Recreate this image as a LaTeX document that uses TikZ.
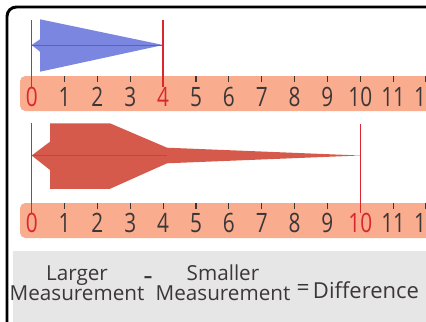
\documentclass[tikz,border=0pt]{standalone}
\usepackage{fontspec}
\setmainfont{Open Sans}

\definecolor{band}{RGB}{250,172,142}
\definecolor{ink}{RGB}{60,55,55}
\definecolor{hilite}{RGB}{218,38,45}
\definecolor{bluearrow}{RGB}{122,134,224}
\definecolor{redarrow}{RGB}{214,90,75}
\definecolor{panel}{RGB}{230,230,230}

\newcommand{\narrow}[1]{\scalebox{0.78}[1]{#1}}

\begin{document}
\begin{tikzpicture}[x=0.75pt, y=-0.75pt,
    num/.style={font=\fontsize{20}{20}\selectfont, inner sep=0pt, anchor=center},
    word/.style={font=\fontsize{15.5}{15}\selectfont, align=center, inner sep=0pt, text=ink},
    tick/.style={ink, line width=0.9pt},
    marker/.style={hilite, line width=1pt},
  ]
    %% coordinates in pixels: x = ruler value, y = row (top to bottom)
    \def\xorigin{31.7}  % position of 0
    \def\xstep{32.86}   % px per unit

    \useasboundingbox (0,0) rectangle (426,322);
    \clip (0,0) rectangle (426,322);
    \fill[white] (0,0) rectangle (426,322);

    %% --- frame ---
    \draw[black, line width=2.2pt, rounded corners=7] (7,7) rectangle (470,370);

    %% --- ruler bands ---
    \fill[band, rounded corners=4] (20,76) rectangle (460,111);
    \fill[band, rounded corners=4] (20,203) rectangle (460,238);

    %% --- ticks ---
    \foreach \n in {1,...,12} {
      \draw[tick] ({\xorigin+\n*\xstep},76) -- ++(0,6);
      \draw[tick] ({\xorigin+\n*\xstep},203) -- ++(0,6);
    }

    %% --- numbers (upper: 0 and 4 marked) ---
    \foreach \n/\col in {0/hilite,1/ink,2/ink,3/ink,4/hilite,5/ink,6/ink,
                         7/ink,8/ink,9/ink,10/ink,11/ink,12/ink}
      \node[num, text=\col] (a\n) at ({\xorigin+\n*\xstep},97) {\narrow{\n}};

    %% --- numbers (lower: 0 and 10 marked) ---
    \foreach \n/\col in {0/hilite,1/ink,2/ink,3/ink,4/ink,5/ink,6/ink,
                         7/ink,8/ink,9/ink,10/hilite,11/ink,12/ink}
      \node[num, text=\col] (b\n) at ({\xorigin+\n*\xstep},223) {\narrow{\n}};

    %% ============================================================
    %% upper: 0 to 4
    %% ============================================================
    \fill[bluearrow] (40,19.3) -- ({\xorigin+4*\xstep},45) -- (40,71.7)
      -- (40,51.7) -- (\xorigin,45) -- (40,39.3) -- cycle;
    \draw[bluearrow!75!black, line width=0.6pt]
      (\xorigin,45) -- ({\xorigin+4*\xstep},45);

    \coordinate (ta0) at (\xorigin,20);
    \coordinate (ta4) at ({\xorigin+4*\xstep},20);
    \draw[marker] (ta0) -- (a0.north);
    \draw[marker] (ta4) -- (a4.north);

    %% ============================================================
    %% lower: 0 to 10
    %% ============================================================
    \fill[redarrow] (50,123.3) -- (110,123.3) -- (167,147.7)
      -- ({\xorigin+10*\xstep},155.5) -- (167,163.3) -- (110,188.8)
      -- (50,188.8) -- (50,170) -- (\xorigin,155.5) -- (50,141.7) -- cycle;
    \draw[redarrow!85!black, line width=0.4pt]
      (\xorigin,155.5) -- (167,155.5);

    \coordinate (tb0) at (\xorigin,123);
    \coordinate (tb10) at ({\xorigin+10*\xstep},124);
    \draw[marker] (tb0) -- (b0.north);
    \draw[marker] (tb10) -- (b10.north);

    %% --- formula panel ---
    \fill[panel] (13,251) rectangle (470,340);
    \node[word] (larger) at (77,283) {Larger\\Measurement};
    \node[word] (minus) at (148,281) {\fontsize{22}{22}\selectfont -};
    \node[word] (smaller) at (223,283) {Smaller\\Measurement};
    \node[word, font=\fontsize{17}{17}\selectfont] (equals) at (303,290) {=};
    \node[word, font=\fontsize{16.5}{17}\selectfont] (diff) at (366,290) {Difference};

  \end{tikzpicture}
\end{document}
